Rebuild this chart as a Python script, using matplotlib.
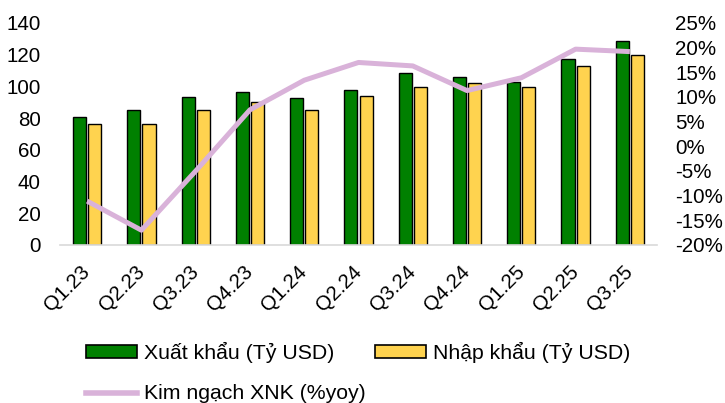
import matplotlib
matplotlib.use("Agg")
import matplotlib.pyplot as plt
import numpy as np
from matplotlib.ticker import FuncFormatter
from matplotlib.patches import Patch
from matplotlib.lines import Line2D

categories = ["Q1.23", "Q2.23", "Q3.23", "Q4.23", "Q1.24", "Q2.24", "Q3.24",
              "Q4.24", "Q1.25", "Q2.25", "Q3.25"]
xuat_khau = [81, 85, 93.5, 96.5, 93, 98, 108.7, 106, 103, 117.3, 128.5]
nhap_khau = [76, 76.3, 85, 90.4, 85, 94, 99.8, 102, 99.8, 112.7, 119.8]
kim_ngach_yoy = [-11.1, -17.0, -5.0, 7.4, 13.4, 17.0, 16.3, 11.3, 13.9, 19.7, 19.2]

label_xk = "Xuất khẩu (Tỷ USD)"
label_nk = "Nhập khẩu (Tỷ USD)"
label_kn = "Kim ngạch XNK (%yoy)"

plt.rcParams['font.family'] = ['Liberation Sans', 'DejaVu Sans']
FS = 14.8
LFS = 15.3

W, H = 725, 403
fig = plt.figure(figsize=(W / 100, H / 100), dpi=100)
ax = fig.add_axes([60 / W, 1 - 245 / H, (657 - 60) / W, (245 - 23) / H])

x = np.arange(len(categories))
bw = 0.24
off = 0.14
green = "#008000"
yellow = "#FFD34F"
pink = "#D9B2D9"

ax.bar(x - off, xuat_khau, bw, color=green, edgecolor="black", linewidth=1.0, zorder=2)
ax.bar(x + off, nhap_khau, bw, color=yellow, edgecolor="black", linewidth=1.0, zorder=2)
ax.set_xlim(-0.5, len(categories) - 0.5)
ax.set_ylim(0, 140)
ax.set_yticks(np.arange(0, 141, 20))
ax.set_xticks(x)
ax.set_xticklabels(categories, rotation=45, ha="right", va="center",
                   rotation_mode="anchor", fontsize=FS)
ax.tick_params(axis="both", length=0)
ax.tick_params(axis="x", pad=17)
ax.tick_params(axis="y", pad=14, labelsize=FS)
for s in ["top", "right", "left"]:
    ax.spines[s].set_visible(False)
ax.spines["bottom"].set_color("#D9D9D9")
ax.spines["bottom"].set_linewidth(1.2)

ax2 = ax.twinx()
ax2.plot(x, kim_ngach_yoy, color=pink, linewidth=3.6, solid_capstyle="butt", zorder=3)
ax2.set_ylim(-20, 25)
ax2.set_yticks(np.arange(-20, 26, 5))
ax2.yaxis.set_major_formatter(FuncFormatter(lambda v, p: f"{int(round(v))}%"))
ax2.tick_params(axis="y", length=0, pad=13, labelsize=FS)
for s in ["top", "right", "left", "bottom"]:
    ax2.spines[s].set_visible(False)

handles = [
    Patch(facecolor=green, edgecolor="black", linewidth=1.2),
    Line2D([0], [0], color=pink, linewidth=4),
    Patch(facecolor=yellow, edgecolor="black", linewidth=1.2),
]
labels = [label_xk, label_kn, label_nk]
fig.legend(handles, labels, ncol=2, loc="upper left",
           bbox_to_anchor=(86 / W, 1 - 342 / H), frameon=False, fontsize=LFS,
           handlelength=2.4, handleheight=0.5, handletextpad=0.35,
           columnspacing=0.4, labelspacing=1.0, borderpad=0, borderaxespad=0)

fig.savefig("out.png", dpi=100)
